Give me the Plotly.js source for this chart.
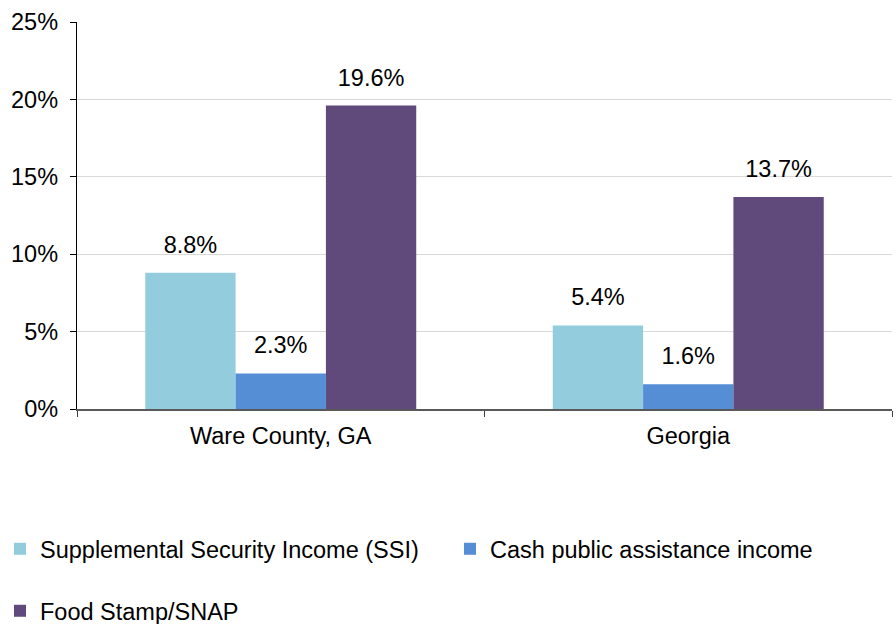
<!DOCTYPE html>
<html>
<head>
<meta charset="utf-8">
<script src="https://cdn.plot.ly/plotly-3.0.1.min.js"></script>
<style>html,body{margin:0;padding:0;background:#fff;}#chart{width:896px;height:624px;}</style>
</head>
<body>
<div id="chart"></div>
<script>
const categories = ["Ware County, GA", "Georgia"];
const seriesNames = ["Supplemental Security Income (SSI)", "Cash public assistance income", "Food Stamp/SNAP"];
const ssiValues = [0.088, 0.054];
const cashValues = [0.023, 0.016];
const snapValues = [0.196, 0.137];
const yTickValues = [0, 0.05, 0.10, 0.15, 0.20, 0.25];
const yTickLabels = ["0%", "5%", "10%", "15%", "20%", "25%"];
const colors = ["#93CDDD", "#558ED5", "#604A7B"];

const FONT = "Liberation Sans, Arial, sans-serif";
const FS = 23.5;

function barTrace(name, vals, color, legendId) {
  return {
    type: "bar",
    name: name,
    x: categories,
    y: vals,
    marker: {color: color, line: {width: 0}},
    hoverinfo: "none",
    legend: legendId
  };
}

function labelTrace(vals) {
  return {
    type: "scatter",
    mode: "markers+text",
    x: categories,
    y: vals,
    text: vals.map(v => (v * 100).toFixed(1) + "%"),
    textposition: "top center",
    textfont: {family: FONT, size: FS, color: "#000"},
    marker: {size: 21, color: "rgba(0,0,0,0)", line: {width: 0}},
    cliponaxis: false,
    showlegend: false,
    hoverinfo: "none"
  };
}

const data = [
  barTrace(seriesNames[0], ssiValues, colors[0], "legend"),
  barTrace(seriesNames[1], cashValues, colors[1], "legend2"),
  barTrace(seriesNames[2], snapValues, colors[2], "legend3"),
  labelTrace(ssiValues),
  labelTrace(cashValues),
  labelTrace(snapValues)
];

const legendBase = {
  font: {family: FONT, size: FS, color: "#000"},
  bgcolor: "rgba(0,0,0,0)",
  xref: "container", yref: "container",
  xanchor: "left", yanchor: "middle",
  orientation: "h"
};

const layout = {
  width: 896, height: 624,
  margin: {l: 77, r: 4, t: 22, b: 215},
  paper_bgcolor: "#fff",
  plot_bgcolor: "#fff",
  font: {family: FONT, size: FS, color: "#000"},
  barmode: "group",
  bargap: 0.335,
  bargroupgap: 0,
  scattermode: "group",
  scattergap: 0.335,
  showlegend: true,
  xaxis: {
    type: "category",
    showline: true, linecolor: "#595959", linewidth: 1.5,
    ticks: "outside", tickson: "boundaries", ticklen: 6, tickcolor: "#404040",
    ticklabelstandoff: 5,
    showgrid: false,
    tickfont: {family: FONT, size: FS, color: "#000"}
  },
  yaxis: {
    range: [0, 0.25],
    tickvals: yTickValues, ticktext: yTickLabels,
    showline: true, linecolor: "#000", linewidth: 1.2,
    ticks: "outside", ticklen: 6, tickcolor: "#000",
    ticklabelstandoff: 7,
    showgrid: true, gridcolor: "#d9d9d9", gridwidth: 1.2,
    zeroline: false,
    tickfont: {family: FONT, size: FS, color: "#000"}
  },
  legend: Object.assign({}, legendBase, {x: 0 / 896, y: 1 - 549 / 624}),
  legend2: Object.assign({}, legendBase, {x: 450 / 896, y: 1 - 549 / 624}),
  legend3: Object.assign({}, legendBase, {x: 0 / 896, y: 1 - 611 / 624})
};

Plotly.newPlot("chart", data, layout, {displayModeBar: false, staticPlot: true});
</script>
</body>
</html>
